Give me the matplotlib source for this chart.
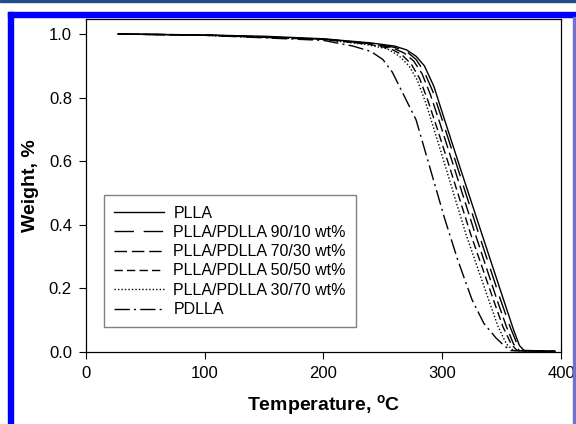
import matplotlib
matplotlib.use("Agg")
import matplotlib.pyplot as plt
from matplotlib.patches import Rectangle

plt.rcParams["font.family"] = ["Liberation Sans", "DejaVu Sans"]

# TGA curves: temperature (C) and weight fraction
pla_t = [27, 100, 150, 200, 240, 260, 270, 278, 285, 293, 302, 315, 333, 352, 360, 365, 369, 380, 395]
pla_w = [1.0, 0.997, 0.993, 0.985, 0.972, 0.962, 0.95, 0.93, 0.90, 0.835, 0.73, 0.58, 0.375, 0.16, 0.07, 0.02, 0.004, 0.002, 0.002]

b9010_t = [27, 100, 200, 240, 260, 270, 278, 285, 292, 300, 312, 330, 349, 357, 363, 367, 395]
b9010_w = [1.0, 0.997, 0.984, 0.97, 0.958, 0.945, 0.92, 0.88, 0.82, 0.73, 0.59, 0.38, 0.165, 0.08, 0.025, 0.005, 0.002]

b7030_t = [27, 100, 200, 240, 258, 268, 276, 283, 290, 298, 310, 327, 346, 354, 360, 365, 395]
b7030_w = [1.0, 0.997, 0.984, 0.97, 0.957, 0.94, 0.915, 0.875, 0.81, 0.72, 0.58, 0.38, 0.165, 0.08, 0.025, 0.004, 0.002]

b5050_t = [27, 100, 200, 238, 256, 266, 274, 281, 288, 296, 308, 324, 343, 351, 358, 363, 395]
b5050_w = [1.0, 0.996, 0.983, 0.968, 0.955, 0.935, 0.905, 0.86, 0.79, 0.70, 0.56, 0.37, 0.165, 0.08, 0.025, 0.004, 0.002]

b3070_t = [27, 100, 200, 236, 254, 264, 272, 279, 286, 294, 305, 320, 339, 347, 354, 360, 395]
b3070_w = [1.0, 0.996, 0.983, 0.967, 0.953, 0.93, 0.90, 0.855, 0.785, 0.69, 0.555, 0.37, 0.165, 0.08, 0.025, 0.004, 0.002]

pdlla_t = [27, 100, 200, 225, 240, 250, 258, 264, 270, 278, 290, 302, 313, 325, 335, 345, 352, 358, 395]
pdlla_w = [1.0, 0.996, 0.98, 0.962, 0.945, 0.92, 0.88, 0.835, 0.79, 0.73, 0.575, 0.42, 0.29, 0.165, 0.09, 0.045, 0.02, 0.004, 0.002]

labels = ["PLLA", "PLLA/PDLLA 90/10 wt%", "PLLA/PDLLA 70/30 wt%",
          "PLLA/PDLLA 50/50 wt%", "PLLA/PDLLA 30/70 wt%", "PDLLA"]

fig = plt.figure(figsize=(5.76, 4.24), dpi=100)
ax = fig.add_axes([0.149, 0.170, 0.825, 0.785])

lw = 1.0
ax.plot(pla_t, pla_w, color="black", lw=lw, linestyle="-", label=labels[0])
ax.plot(b9010_t, b9010_w, color="black", lw=lw, dashes=(14, 7), label=labels[1])
ax.plot(b7030_t, b7030_w, color="black", lw=lw, dashes=(9, 3.5), label=labels[2])
ax.plot(b5050_t, b5050_w, color="black", lw=lw, dashes=(6, 3), label=labels[3])
ax.plot(b3070_t, b3070_w, color="black", lw=lw, dashes=(1, 1.5), label=labels[4])
ax.plot(pdlla_t, pdlla_w, color="black", lw=lw, dashes=(11, 3, 1.5, 3), label=labels[5])

ax.set_xlim(0, 400)
ax.set_ylim(0, 1.047)
ax.set_xticks([0, 100, 200, 300, 400])
ax.set_yticks([0.0, 0.2, 0.4, 0.6, 0.8, 1.0])
ax.set_yticklabels(["0.0", "0.2", "0.4", "0.6", "0.8", "1.0"])
ax.tick_params(direction="out", length=5, width=0.8, labelsize=12, pad=5,
               top=False, right=False)
for s in ax.spines.values():
    s.set_linewidth(0.9)

ax.set_xlabel("Temperature, $\\mathregular{^{o}}$C", fontsize=14, fontweight="bold", labelpad=9)
ax.set_ylabel("Weight, %", fontsize=14, fontweight="bold", labelpad=7)

leg = ax.legend(loc="upper left", bbox_to_anchor=(0.038, 0.471), borderaxespad=0,
                fontsize=11.5, handlelength=3.1, labelspacing=0.27, handletextpad=0.6,
                fancybox=False, framealpha=1, borderpad=0.65)
leg.get_frame().set_edgecolor("#808080")
leg.get_frame().set_linewidth(1.0)

# blue page frame around the figure
W, H = 576.0, 424.0
fig.patches.append(Rectangle((0, 1 - 2 / H), 1, 2 / H, transform=fig.transFigure,
                             color="#1f4f8a", zorder=0))
fig.patches.append(Rectangle((7.5 / W, 0), 5 / W, 1 - 12 / H, transform=fig.transFigure,
                             color="#0000ff", zorder=0))
fig.patches.append(Rectangle((7.5 / W, 1 - 17 / H), 1, 5 / H, transform=fig.transFigure,
                             color="#0000ff", zorder=0))
fig.patches.append(Rectangle((573 / W, 0), 1.5 / W, 1 - 17 / H, transform=fig.transFigure,
                             color="#7070d0", zorder=0))

fig.savefig("out.png", dpi=100)
